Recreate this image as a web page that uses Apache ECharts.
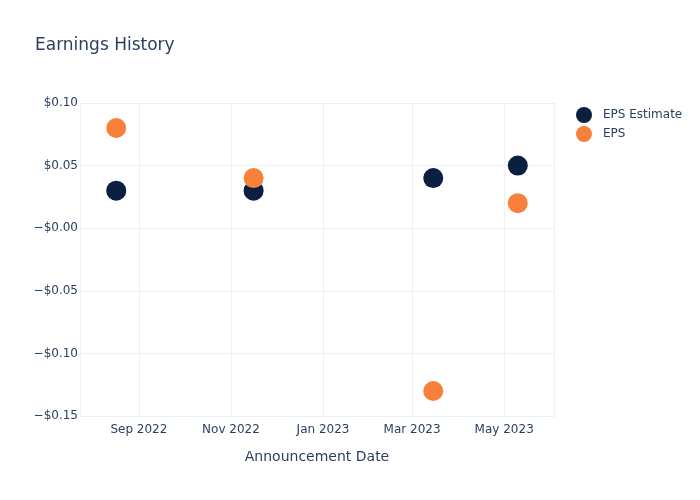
<!DOCTYPE html>
<html>
<head>
<meta charset="utf-8">
<script src="https://cdn.jsdelivr.net/npm/echarts@6/dist/echarts.min.js"></script>
<style>html,body{margin:0;padding:0;background:#fff;}#c{width:700px;height:500px;}</style>
</head>
<body>
<div id="c"></div>
<script>
var dates = ['2022-08-17', '2022-11-16', '2023-03-15', '2023-05-10'];
var epsEstimate = [0.03, 0.03, 0.04, 0.05];
var eps = [0.08, 0.04, -0.13, 0.02];
var yTicks = [-0.15, -0.10, -0.05, 0.00, 0.05, 0.10];
var xRange = ['2022-07-24', '2023-06-03'];
var monthNames = ['Jan','Feb','Mar','Apr','May','Jun','Jul','Aug','Sep','Oct','Nov','Dec'];

var FONT = '"DejaVu Sans", sans-serif';
var TXT = '#2a3f5f';
var GRID = '#ebf0f8';

function pairs(vals) {
  return dates.map(function (d, i) { return [d, vals[i]]; });
}

var chart = echarts.init(document.getElementById('c'), null, { renderer: 'canvas' });
chart.setOption({
  animation: false,
  backgroundColor: '#fff',
  textStyle: { fontFamily: FONT, color: TXT },
  title: {
    text: 'Earnings History',
    left: 30, top: 32,
    textStyle: { fontFamily: FONT, fontSize: 17, fontWeight: 'normal', color: TXT }
  },
  legend: {
    orient: 'vertical',
    left: 571, top: 102,
    itemWidth: 16, itemHeight: 16, itemGap: 3,
    icon: 'circle',
    textStyle: { fontFamily: FONT, fontSize: 12, color: TXT, padding: [0, 0, 0, 6] },
    data: ['EPS Estimate', 'EPS']
  },
  grid: { left: 80, right: 146, top: 103, bottom: 84, containLabel: false },
  xAxis: {
    type: 'time',
    min: xRange[0], max: xRange[1],
    splitNumber: 5,
    name: 'Announcement Date',
    nameLocation: 'middle', nameGap: 34,
    nameTextStyle: { fontFamily: FONT, fontSize: 14, color: TXT },
    axisLine: { show: false },
    axisTick: { show: false },
    splitLine: { show: true, lineStyle: { color: GRID, width: 1 } },
    axisLabel: {
      fontFamily: FONT, fontSize: 12, color: TXT, margin: 8,
      hideOverlap: false,
      formatter: function (v) {
        var d = new Date(v);
        return monthNames[d.getMonth()] + ' ' + d.getFullYear();
      }
    }
  },
  yAxis: {
    type: 'value',
    min: yTicks[0], max: yTicks[yTicks.length - 1], interval: 0.05,
    axisLine: { show: false },
    axisTick: { show: false },
    splitLine: { show: true, lineStyle: { color: GRID, width: 1 } },
    axisLabel: {
      fontFamily: FONT, fontSize: 12, color: TXT, margin: 2,
      formatter: function (v) {
        var r = Math.round(v * 100) / 100;
        return (r > 0 ? '$' : '\u2212$') + Math.abs(r).toFixed(2);
      }
    }
  },
  series: [
    {
      name: 'EPS Estimate', type: 'scatter', symbolSize: 20,
      itemStyle: { color: '#0b1f40', opacity: 1 },
      data: pairs(epsEstimate), z: 2
    },
    {
      name: 'EPS', type: 'scatter', symbolSize: 20,
      itemStyle: { color: '#f7803a', opacity: 1 },
      data: pairs(eps), z: 3
    }
  ]
});
</script>
</body>
</html>
